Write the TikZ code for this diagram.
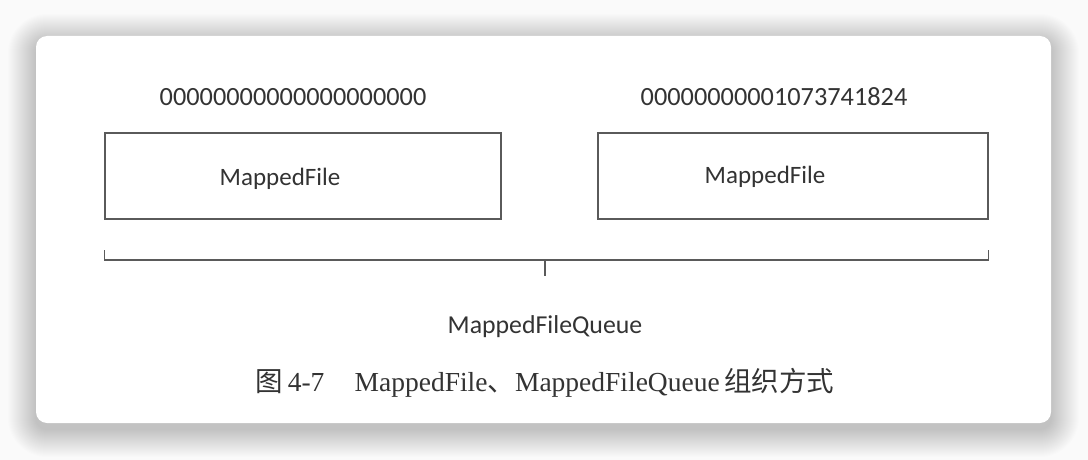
\documentclass[tikz,border=0pt]{standalone}
\usepackage{fontspec}
\setmainfont{Liberation Serif}
\newfontfamily\labelfont{Carlito}
\newfontfamily\cjk{Noto Sans CJK SC}
\definecolor{inkgray}{HTML}{333333}
\definecolor{linegray}{HTML}{5A5A5A}
\definecolor{pagebg}{HTML}{FAFAFA}
\tikzset{
  filebox/.style={draw=linegray, line width=1.3pt, minimum width=396pt, minimum height=86pt, inner sep=0pt},
  lbl/.style={font=\labelfont\fontsize{25}{28}\selectfont, text=inkgray, inner sep=0pt},
  offsetlbl/.style={font=\labelfont\fontsize{26.3}{29}\selectfont, text=inkgray, inner sep=0pt},
  queuelbl/.style={font=\labelfont\fontsize{25.8}{29}\selectfont, text=inkgray, inner sep=0pt},
  captionlbl/.style={font=\fontsize{27.5}{31}\selectfont, text=inkgray, inner sep=0pt},
  bracketline/.style={draw=linegray, line width=1.4pt},
}
\begin{document}
\begin{tikzpicture}[x=1pt,y=-1pt]
\useasboundingbox (0,0) rectangle (1088,460);
\fill[pagebg] (0,0) rectangle (1088,460);
% soft shadow
\foreach \i in {1,...,28}{
  \fill[black, opacity=0.0065, rounded corners={11pt+\i pt}]
    ({36-\i},{42-\i}) rectangle ({1051+\i},{429+\i});
}
% card
\fill[white, rounded corners=11pt] (36,36) rectangle (1051,423);
% boxes
\node[filebox] (f1) at (303,176) {};
\node[filebox, minimum width=390pt] (f2) at (793,176) {};
\node[lbl] (t1) at (280,179) {MappedFile};
\node[lbl] (t2) at (765,177) {MappedFile};
% offsets
\node[offsetlbl] (o1) at (293,97) {00000000000000000000};
\node[offsetlbl] (o2) at (774,97) {00000000001073741824};
% bracket
\coordinate (bl) at (f1.south west |- 0,250);
\coordinate (br) at (f2.south east |- 0,250);
\coordinate (bm) at (545,260);
\draw[bracketline] (bl) -- (bl |- bm) -- (br |- bm) -- (br);
\node[queuelbl] (q) at (545,327) {MappedFileQueue};
\draw[bracketline] (bm) -- (q.north |- 0,276);
% caption
\node[captionlbl] (cap) at (545,383) {{\cjk 图}\,4-7\hspace{1.1em}MappedFile{\cjk 、}MappedFileQueue\,{\cjk 组织方式}};
\end{tikzpicture}
\end{document}
